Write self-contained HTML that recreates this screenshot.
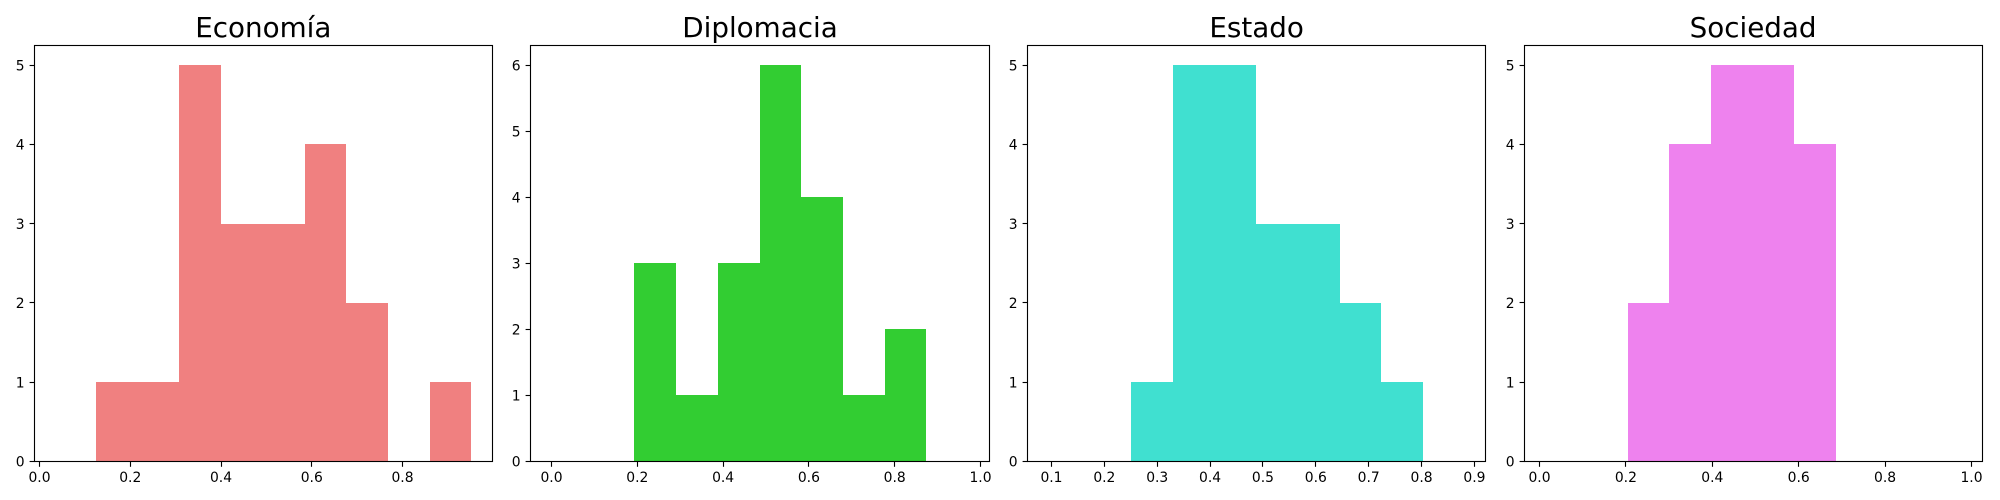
<!DOCTYPE html>
<html lang="es">
<head>
<meta charset="utf-8">
<title>Histogramas</title>
<style>
html,body{margin:0;padding:0;background:#fff;width:2000px;height:500px;overflow:hidden}
svg{display:block}
text{font-family:"DejaVu Sans","Liberation Sans",sans-serif;fill:#000}
.tick{font-size:13.89px}
.title{font-size:27.78px;text-anchor:middle}
</style>
</head>
<body>
<svg id="figure" xmlns="http://www.w3.org/2000/svg" width="2000" height="500" viewBox="0 0 2000 500"></svg>
<script>
// Data
const economiaCounts   = [0, 1, 1, 5, 3, 3, 4, 2, 0, 1];
const diplomaciaCounts = [0, 0, 3, 1, 3, 6, 4, 1, 2, 0];
const estadoCounts     = [0, 0, 1, 5, 5, 3, 3, 2, 1, 0];
const sociedadCounts   = [0, 0, 2, 4, 5, 5, 4, 0, 0, 0];

const economiaRange   = [0.0338, 0.9528];
const diplomaciaRange = [0.0, 0.972];
const estadoRange     = [0.0936, 0.8823];
const sociedadRange   = [0.0118, 0.9771];

const economiaXTicks   = ["0.0", "0.2", "0.4", "0.6", "0.8"];
const diplomaciaXTicks = ["0.0", "0.2", "0.4", "0.6", "0.8", "1.0"];
const estadoXTicks     = ["0.1", "0.2", "0.3", "0.4", "0.5", "0.6", "0.7", "0.8", "0.9"];
const sociedadXTicks   = ["0.0", "0.2", "0.4", "0.6", "0.8", "1.0"];

const economiaYTicks   = ["0", "1", "2", "3", "4", "5"];
const diplomaciaYTicks = ["0", "1", "2", "3", "4", "5", "6"];
const estadoYTicks     = ["0", "1", "2", "3", "4", "5"];
const sociedadYTicks   = ["0", "1", "2", "3", "4", "5"];

// Layout (pixel frame of each axes) is separate from the data
const plotLeft = [34.0, 530.65, 1027.25, 1523.75];
const plotWidth = 458.7;
const spineLeft = [34.5, 530.5, 1027.5, 1524.5];
const spineRight = [492.5, 989.5, 1485.5, 1982.5];
const frameTop = 45.4;
const frameBottom = 461.4;

const panels = [
  {slug: "economia", title: "Economía", color: "#F08080", counts: economiaCounts, range: economiaRange, xTicks: economiaXTicks, yTicks: economiaYTicks},
  {slug: "diplomacia", title: "Diplomacia", color: "#32CD32", counts: diplomaciaCounts, range: diplomaciaRange, xTicks: diplomaciaXTicks, yTicks: diplomaciaYTicks},
  {slug: "estado", title: "Estado", color: "#40E0D0", counts: estadoCounts, range: estadoRange, xTicks: estadoXTicks, yTicks: estadoYTicks},
  {slug: "sociedad", title: "Sociedad", color: "#EE82EE", counts: sociedadCounts, range: sociedadRange, xTicks: sociedadXTicks, yTicks: sociedadYTicks}
];

const NS = "http://www.w3.org/2000/svg";
const figure = document.getElementById("figure");

function make(tag, parent, attrs) {
  const el = document.createElementNS(NS, tag);
  for (const k in attrs) el.setAttribute(k, attrs[k]);
  parent.appendChild(el);
  return el;
}

panels.forEach(function (p, idx) {
  const left = plotLeft[idx];
  const sLeft = spineLeft[idx];
  const sRight = spineRight[idx];
  const span = p.range[1] - p.range[0];
  const xMin = p.range[0] - span * 0.05;
  const xMax = p.range[1] + span * 0.05;
  const yMax = Math.max.apply(null, p.counts) * 1.05;
  const xScale = function (v) { return left + (v - xMin) / (xMax - xMin) * plotWidth; };
  const yScale = function (v) { return frameBottom - v / yMax * (frameBottom - frameTop); };
  const binWidth = span / p.counts.length;

  const group = make("g", figure, {});
  
  

  const title = make("text", group, {class: "title", x: left + plotWidth / 2, y: 37});
  title.textContent = p.title;
  
  

  // Bars
  p.counts.forEach(function (count, i) {
    if (count <= 0) return;
    const x0 = Math.floor(xScale(p.range[0] + i * binWidth));
    const x1 = Math.floor(xScale(p.range[0] + (i + 1) * binWidth));
    const y1 = Math.round(yScale(count));
    const bar = make("rect", group, {
      x: x0, y: y1, width: x1 - x0, height: Math.round(frameBottom) - y1,
      fill: p.color, "shape-rendering": "crispEdges"
    });
    
    
  });

  // X ticks
  p.xTicks.forEach(function (label) {
    const px = Math.floor(xScale(parseFloat(label))) + 0.5;
    const tick = make("line", group, {x1: px, x2: px, y1: frameBottom, y2: frameBottom + 5.4, stroke: "#000", "stroke-width": 1.11});
    
    
    const text = make("text", group, {class: "tick", x: xScale(parseFloat(label)), y: frameBottom + 20.6, "text-anchor": "middle"});
    text.textContent = label;
    
    
  });

  // Y ticks
  p.yTicks.forEach(function (label) {
    const py = Math.round(yScale(parseFloat(label)) - 0.5) + 0.5;
    const tick = make("line", group, {x1: sLeft - 4.9, x2: sLeft, y1: py, y2: py, stroke: "#000", "stroke-width": 1.11});
    
    
    const text = make("text", group, {class: "tick", x: sLeft - 9.9, y: yScale(parseFloat(label)) + 5.2, "text-anchor": "end"});
    text.textContent = label;
    
    
  });

  // Axes frame
  const frame = make("rect", group, {
    x: sLeft, y: Math.round(frameTop - 0.5) + 0.5,
    width: sRight - sLeft, height: frameBottom - frameTop,
    fill: "none", stroke: "#000", "stroke-width": 1.11
  });
  
  
});
</script>
</body>
</html>
